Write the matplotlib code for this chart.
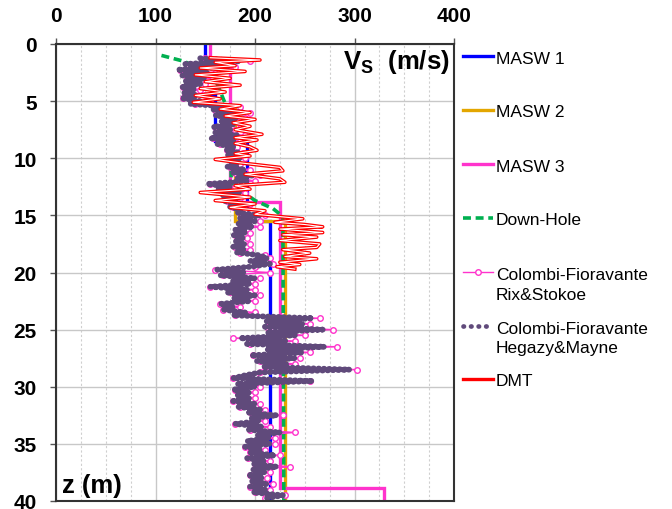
import numpy as np
import matplotlib
matplotlib.use("Agg")
import matplotlib.pyplot as plt
from matplotlib.lines import Line2D
import matplotlib.patheffects as pe

plt.rcParams['font.family'] = ['Liberation Sans', 'DejaVu Sans']
plt.rcParams['mathtext.fontset'] = 'custom'
plt.rcParams['mathtext.bf'] = 'Liberation Sans:bold'
plt.rcParams['mathtext.rm'] = 'Liberation Sans:bold'

# ---------------- data ----------------
x_ticks = [0, 100, 200, 300, 400]
y_ticks = [0, 5, 10, 15, 20, 25, 30, 35, 40]

# MASW layered profiles: layer boundaries (m) and Vs (m/s)
masw1_bounds = [0, 2.5, 4.5, 8.5, 15.5, 40]
masw1_vs = [150, 135, 160, 192, 215]
masw2_bounds = [5.5, 15.5, 40]
masw2_vs = [180, 230]
masw3_bounds = [0, 1.5, 13.8, 38.9, 40]
masw3_vs = [155, 175, 225, 330]

# Down-Hole
dh_z = [1.0, 1.5, 2.2, 3.5, 5.2, 7.6, 9.4, 12.2, 13.7, 14.4, 15.1, 40.0]
dh_vs = [106, 128, 147, 162, 170, 175, 176, 176, 200, 218, 228, 229]

# Colombi-Fioravante profiles (depth sampling every 0.25 m from 1.25 m)
cf_z0, cf_dz = 1.25, 0.25
cf_rix = [150, 195, 135, 180,
          125, 160, 130, 158,
          132, 150, 128, 145,
          130, 150, 128, 155,
          140, 185, 160, 195,
          165, 190, 170, 185,
          160, 180, 165, 190,
          158, 185, 165, 182,
          172, 188, 175, 190,
          178, 185, 175, 195,
          180, 205, 185, 200,
          155, 180, 165, 190,
          170, 185, 172, 195,
          178, 190, 185, 210,
          188, 205, 185, 205,
          183, 195, 180, 192,
          182, 195, 180, 195,
          185, 210, 215, 200,
          218, 200, 160, 215,
          168, 205, 180, 200,
          155, 200, 175, 205,
          180, 200, 165, 185,
          168, 200, 180, 265,
          215, 255, 212, 278,
          215, 250, 178, 240,
          195, 282, 215, 255,
          198, 245, 205, 240,
          210, 303, 205, 200,
          178, 255, 185, 205,
          180, 200, 185, 200,
          178, 205, 185, 210,
          195, 228, 198, 210,
          180, 215, 195, 240,
          205, 220, 195, 220,
          190, 210, 195, 225,
          193, 215, 200, 235,
          200, 215, 195, 212,
          198, 218, 195, 215,
          200, 230, 210]
cf_heg = [145, 185, 130, 172,
          122, 152, 127, 150,
          130, 145, 126, 140,
          128, 142, 126, 145,
          135, 178, 158, 188,
          160, 182, 165, 180,
          158, 175, 160, 183,
          155, 180, 162, 178,
          170, 183, 172, 185,
          175, 182, 172, 190,
          178, 198, 182, 192,
          152, 175, 162, 185,
          168, 182, 170, 188,
          175, 185, 182, 205,
          185, 200, 182, 198,
          180, 190, 178, 188,
          180, 190, 178, 190,
          182, 205, 212, 195,
          215, 195, 162, 190,
          165, 200, 178, 195,
          155, 192, 172, 200,
          178, 195, 165, 178,
          168, 190, 178, 258,
          210, 248, 210, 268,
          212, 240, 185, 232,
          192, 270, 212, 248,
          196, 240, 202, 232,
          208, 295, 205, 190,
          178, 258, 182, 200,
          178, 195, 182, 195,
          178, 200, 182, 205,
          192, 222, 195, 205,
          180, 208, 192, 225,
          203, 215, 192, 215,
          190, 205, 195, 220,
          192, 210, 198, 222,
          198, 210, 193, 208,
          196, 212, 195, 210,
          198, 228, 212]

# DMT
dmt_z = [1.2, 1.4, 1.6, 1.9, 2.1, 2.4, 2.7, 3.0, 3.3, 3.6, 3.9, 4.2, 4.5, 4.8,
         5.1, 5.4, 5.7, 6.0, 6.3, 6.6, 6.9, 7.2, 7.5, 7.9, 8.2, 8.4, 8.7, 9.0,
         9.3, 9.6, 9.8, 10.1, 10.4, 10.8, 11.1, 11.4, 11.8, 12.1, 12.4, 12.7,
         13.0, 13.2, 13.4, 13.7, 14.0, 14.3, 14.6, 14.9, 15.3, 15.6, 15.8, 16.0,
         16.2, 16.5, 16.7, 16.9, 17.2, 17.5, 17.8, 18.0, 18.3, 18.6, 18.8, 19.1,
         19.3, 19.5, 19.7]
dmt_vs = [155, 205, 160, 180, 145, 190, 140, 175, 150, 185, 145, 170, 140, 165,
          138, 185, 165, 195, 170, 200, 178, 195, 180, 207, 180, 202, 180, 195,
          202, 180, 195, 160, 185, 225, 228, 190, 225, 230, 180, 195,
          145, 170, 195, 160, 200, 175, 210, 200, 248, 220, 250, 268,
          225, 268, 228, 262, 225, 265, 262, 228, 255, 230, 262, 225,
          245, 222, 240]

# ---------------- styles ----------------
C_BLUE = '#0000FF'
C_ORANGE = '#E3A600'
C_PINK = '#FF33CC'
C_GREEN = '#00B050'
C_PURPLE = '#604A7B'
C_RED = '#FF0000'


def step_profile(bounds, vs):
    z = np.repeat(bounds, 2)[1:-1]
    v = np.repeat(vs, 2)
    return v, z


fig = plt.figure(figsize=(6.72, 5.10), dpi=100)
ax = fig.add_axes([56 / 672, 8 / 510, 398 / 672, 457 / 510])

ax.set_xlim(0, 400)
ax.set_ylim(40, 0)
ax.xaxis.tick_top()
ax.set_xticks(x_ticks)
ax.set_xticks(np.arange(0, 401, 25), minor=True)
ax.set_yticks(y_ticks)

ax.grid(True, which='major', axis='both', color='#C8C8C8', lw=1.0, ls='-')
ax.grid(True, which='minor', axis='x', color='#CFCFCF', lw=0.8, ls=(0, (2, 2)))
ax.set_axisbelow(True)

for s in ax.spines.values():
    s.set_color('#333333')
    s.set_linewidth(1.5)

ax.tick_params(which='major', direction='out', length=4, width=1, color='#555555',
               pad=10, labelsize=15)
ax.tick_params(which='minor', length=0)
for lab in ax.get_xticklabels() + ax.get_yticklabels():
    lab.set_fontweight('bold')

lw_masw = 2.4
v, z = step_profile(masw1_bounds, masw1_vs)
ax.plot(v, z, color=C_BLUE, lw=lw_masw, solid_joinstyle='miter')
v, z = step_profile(masw2_bounds, masw2_vs)
ax.plot(v, z, color=C_ORANGE, lw=lw_masw, solid_joinstyle='miter')
v, z = step_profile(masw3_bounds, masw3_vs)
ax.plot(v, z, color=C_PINK, lw=lw_masw, solid_joinstyle='miter')

ax.plot(dh_vs, dh_z, color=C_GREEN, lw=2.6, ls=(0, (2.2, 1.3)))

cf_depth = cf_z0 + cf_dz * np.arange(len(cf_rix))
ax.plot(cf_rix, cf_depth, color=C_PINK, lw=1.0, marker='o', ms=4,
        mfc='white', mec=C_PINK, mew=1.0)
cf_depth_h = cf_z0 + cf_dz * np.arange(len(cf_heg))
ax.plot(cf_heg, cf_depth_h, color=C_PURPLE, lw=4.2, ls=(0, (0.1, 0.8)),
        dash_capstyle='round', solid_capstyle='round')

ax.plot(dmt_vs, dmt_z, color='white', lw=0.8,
        path_effects=[pe.Stroke(linewidth=2.6, foreground=C_RED), pe.Normal()])

ax.text(0.99, 0.993, r'$\mathbf{V_S}$  (m/s)', transform=ax.transAxes,
        ha='right', va='top', fontsize=18.5, fontweight='bold')
ax.text(0.015, 0.008, 'z (m)', transform=ax.transAxes, ha='left',
        va='bottom', fontsize=18.5, fontweight='bold')

# ---------------- legend (manual, outside right) ----------------
W, H = 672.0, 510.0
hx0, hx1, tx = 463, 493, 496


def fx(px):
    return px / W


def fy(py):
    return 1 - py / H


entries = [
    (57, ['MASW 1'], dict(color=C_BLUE, lw=2.4)),
    (111, ['MASW 2'], dict(color=C_ORANGE, lw=2.4)),
    (165, ['MASW 3'], dict(color=C_PINK, lw=2.4)),
    (219, ['Down-Hole'], dict(color=C_GREEN, lw=2.6, ls=(0, (2.2, 1.3)))),
    (273, ['Colombi-Fioravante', 'Rix&Stokoe'], dict(color=C_PINK, lw=1.0)),
    (327, ['Colombi-Fioravante', 'Hegazy&Mayne'],
     dict(color=C_PURPLE, lw=3.4, ls=(0, (0.1, 1.5)), dash_capstyle='round')),
    (380, ['DMT'], dict(color=C_RED, lw=2.4)),
]
for yc, lines, kw in entries:
    fig.add_artist(Line2D([fx(hx0), fx(hx1)], [fy(yc), fy(yc)],
                          transform=fig.transFigure, **kw))
    if lines[0].startswith('Colombi') and 'Rix' in lines[1]:
        fig.add_artist(Line2D([fx((hx0 + hx1) / 2)], [fy(yc)], marker='o',
                              ms=4, mfc='white', mec=C_PINK, mew=1.0,
                              transform=fig.transFigure))
    for i, t in enumerate(lines):
        fig.text(fx(tx), fy(yc + 6.5 + 20 * i), t, ha='left', va='baseline',
                 fontsize=12.5, color='black')

fig.savefig('out.png', dpi=100)
